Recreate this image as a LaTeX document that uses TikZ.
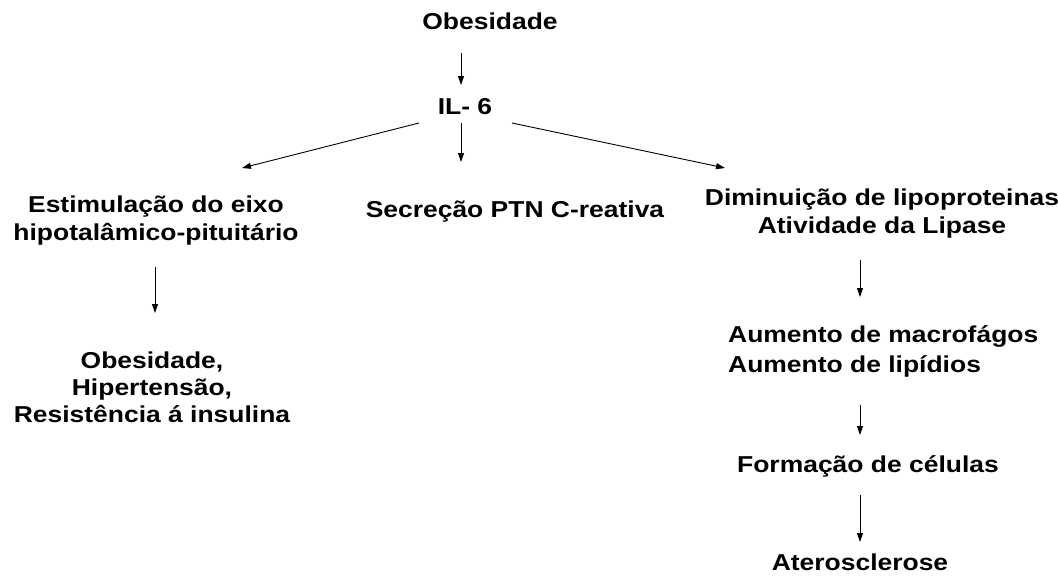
\documentclass[tikz,border=0pt]{standalone}
\usepackage{fontspec}
\setmainfont{Liberation Sans}[FakeStretch=1.15]
\usetikzlibrary{arrows.meta}

\tikzset{
  txt/.style={font=\fontsize{23}{28}\selectfont\bfseries, inner sep=0pt, anchor=base, align=center},
  arr/.style={-{Triangle[length=9pt,width=6pt]}, line width=0.9pt},
}

\begin{document}
\begin{tikzpicture}[x=1pt,y=-1pt]

\useasboundingbox (0,0) rectangle (1058,576);

% topo
\node[txt] (obes) at (490,29) {Obesidade};
\node[txt] (il6) at (465,114) {IL- 6};

% tres ramos (base = ultima linha)
\node[txt] (estim) at (156,240) {Estimulação do eixo\\hipotalâmico-pituitário};
\node[txt] (secr) at (515,217) {Secreção PTN C-reativa};
\node[txt] (dimin) at (882,233) {Diminuição de lipoproteinas\\Atividade da Lipase};

% ramo esquerdo
\node[txt, font=\fontsize{23}{27}\selectfont\bfseries] (obes2) at (152,422) {Obesidade,\\Hipertensão,\\Resistência á insulina};

% ramo direito
\node[txt, anchor=base west, align=left, font=\fontsize{23}{30}\selectfont\bfseries] (aum) at (728,372) {Aumento de macrofágos\\Aumento de lipídios};
\node[txt] (form) at (868,472) {Formação de células};
\node[txt] (ater) at (860,570) {Aterosclerose};

% setas
\draw[arr] ([shift={(-29,24)}]obes.base) -- ([shift={(-4,-29)}]il6.base);
\draw[arr] ([shift={(-4,9)}]il6.base) -- ([shift={(-54,-55)}]secr.base);
\draw[arr] ([shift={(-46,9)}]il6.base) -- ([shift={(86,-72)}]estim.base);
\draw[arr] ([shift={(47,9)}]il6.base) -- ([shift={(-157,-65)}]dimin.base);
\draw[arr] ([shift={(-1,27)}]estim.base) -- ([shift={(3,-109)}]obes2.base);
\draw[arr] ([shift={(-22,27)}]dimin.base) -- ([shift={(132,-75)}]aum.base west);
\draw[arr] ([shift={(132,33)}]aum.base west) -- ([shift={(-8,-37)}]form.base);
\draw[arr] ([shift={(-8,23)}]form.base) -- ([shift={(0,-28)}]ater.base);

\end{tikzpicture}
\end{document}
